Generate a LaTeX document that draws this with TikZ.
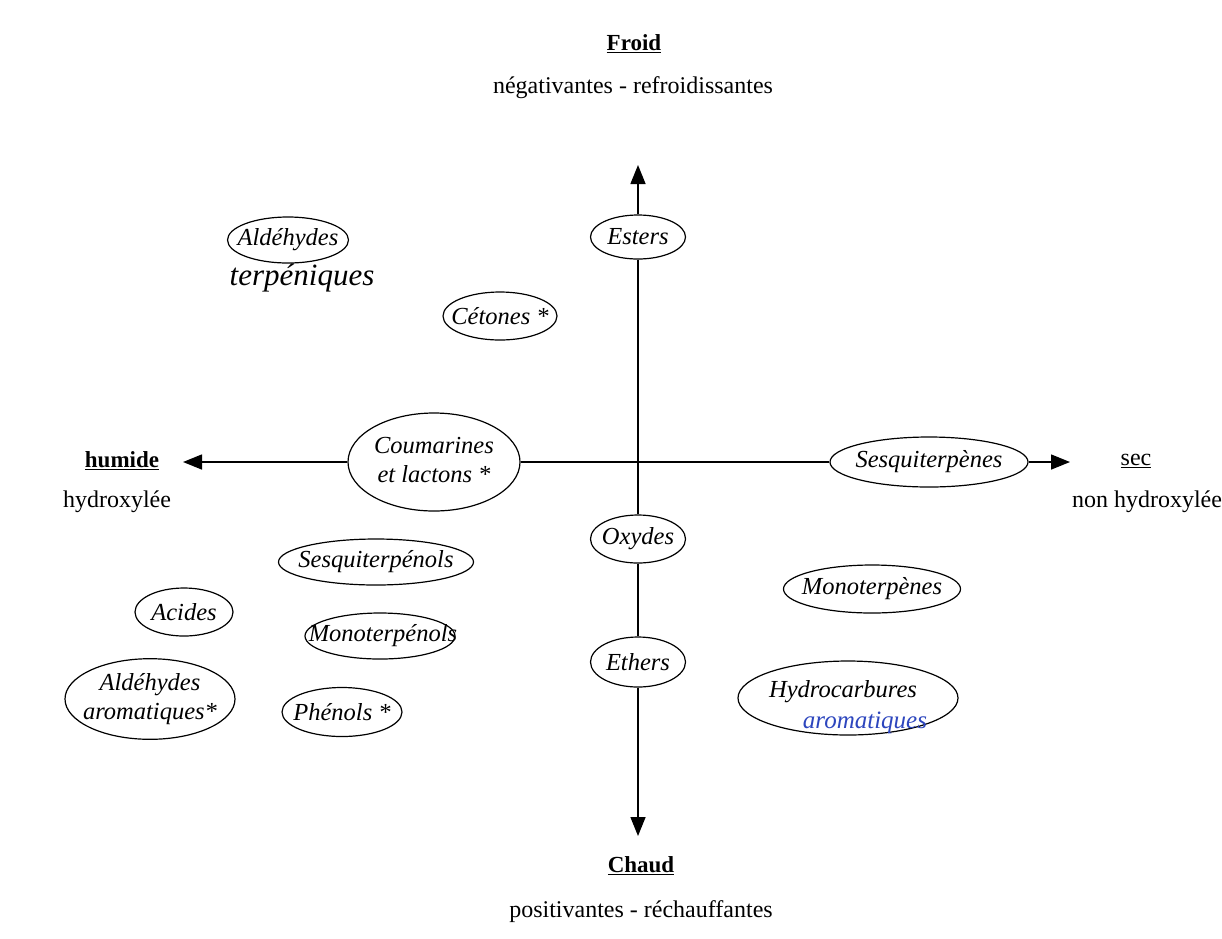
\documentclass[tikz,border=0pt]{standalone}
\usepackage{fontspec}
\setmainfont{Liberation Serif}
\usetikzlibrary{shapes.geometric,arrows.meta}
\definecolor{inkblue}{RGB}{45,70,190}
\tikzset{
  el/.style={ellipse, draw, fill=white, inner sep=0pt, line width=1.2pt,
             font=\itshape\fontsize{24.5}{28}\selectfont},
  axis/.style={line width=1.5pt, -{Triangle[length=19pt,width=15pt]}},
  plain/.style={line width=1.5pt},
  lab/.style={font=\fontsize{24}{27}\selectfont, inner sep=0pt},
  head/.style={font=\bfseries\fontsize{23}{26}\selectfont, inner sep=0pt},
}
\begin{document}
\begin{tikzpicture}[x=1pt,y=-1pt]
\useasboundingbox (0,0) rectangle (1222,938);
% axis tips
\coordinate (toptip) at (638,165);
\coordinate (bottip) at (638,836);
\coordinate (lefttip) at (183,462);
\coordinate (righttip) at (1070,462);
% axis nodes
\node[el, minimum width=95, minimum height=44] (esters) at (638,237) {\makebox[0pt]{Esters}};
\node[el, minimum width=172, minimum height=98] (coum) at (434,462)
  {\makebox[0pt]{\begin{tabular}{@{}c@{}}Coumarines\\[1pt]et lactons *\end{tabular}}};
\node[el, minimum width=198, minimum height=50] (sesqui) at (929,462) {\makebox[0pt]{Sesquiterpènes}};
\node[el, minimum width=95, minimum height=48] (oxydes) at (638,539) {\makebox[0pt]{Oxydes}};
\node[el, minimum width=95, minimum height=50] (ethers) at (638,662) {\makebox[0pt]{Ethers}};
% axes
\draw[axis] (esters.north) -- (toptip);
\draw[plain] (esters.south) -- (oxydes.north);
\draw[plain] (oxydes.south) -- (ethers.north);
\draw[axis] (ethers.south) -- (bottip);
\draw[axis] (coum.west) -- (lefttip);
\draw[plain] (coum.east) -- (sesqui.west);
\draw[axis] (sesqui.east) -- (righttip);
% other ellipses
\node[el, minimum width=121, minimum height=46] (aldt) at (288,240) {\makebox[0pt]{Aldéhydes}};
\node[font=\itshape\fontsize{31}{34}\selectfont, inner sep=0pt] (terp) at (302,278) {terpéniques};
\node[el, minimum width=114, minimum height=48] (cetones) at (500,316) {\makebox[0pt]{Cétones *}};
\node[el, minimum width=195, minimum height=46] (sesqol) at (376,562) {\makebox[0pt]{Sesquiterpénols}};
\node[el, minimum width=98, minimum height=48] (acides) at (184,612) {\makebox[0pt]{Acides}};
\node[el, minimum width=150, minimum height=46] (monool) at (380,636) {\makebox[0pt]{\hspace*{6pt}Monoterpénols}};
\node[el, minimum width=170, minimum height=75] (alda) at (150,699)
  {\makebox[0pt]{\begin{tabular}{@{}c@{}}Aldéhydes\\[1pt]aromatiques*\end{tabular}}};
\node[el, minimum width=120, minimum height=49] (phenols) at (342,712) {\makebox[0pt]{Phénols *}};
\node[el, minimum width=177, minimum height=48] (monot) at (872,589) {\makebox[0pt]{Monoterpènes}};
\node[el, minimum width=220, minimum height=74] (hydro) at (848,698) {};
\node[font=\itshape\fontsize{24.5}{28}\selectfont, inner sep=0pt] (hydrot) at (843,692) {Hydrocarbures};
\node[font=\itshape\fontsize{25}{28}\selectfont, text=inkblue, inner sep=0pt] (arom) at (865,723) {aromatiques};
% pole labels
\node[head] (froid) at (634,44) {\underline{Froid}};
\node[lab] (froidsub) at (633,88) {négativantes - refroidissantes};
\node[head] (chaud) at (641,866) {\underline{Chaud}};
\node[lab] (chaudsub) at (641,912) {positivantes - réchauffantes};
\node[head] (humide) at (122,461) {\underline{humide}};
\node[lab] (humsub) at (117,502) {hydroxylée};
\node[lab] (sec) at (1136,461) {\underline{sec}};
\node[lab] (secsub) at (1147,502) {non hydroxylée};
\end{tikzpicture}
\end{document}
